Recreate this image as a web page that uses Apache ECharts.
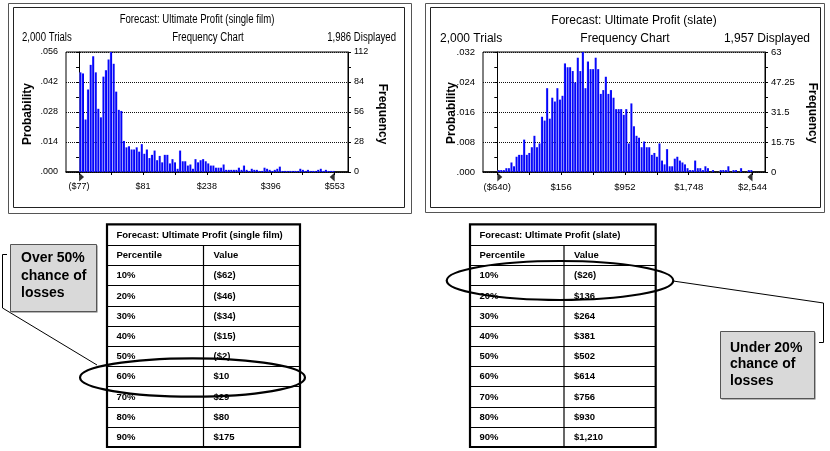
<!DOCTYPE html>
<html>
<head>
<meta charset="utf-8">
<script src="https://cdn.jsdelivr.net/npm/echarts@6/dist/echarts.min.js"></script>
<style>
  html, body { margin: 0; padding: 0; background: #fff; }
  #chart { width: 830px; height: 451px; }
</style>
</head>
<body>
<div id="chart"></div>
<script>
// Monte Carlo forecast histograms: trial counts per bin (100 bins each)
const singleFilmCounts = [
  93, 92, 49, 77, 100, 108, 93, 59, 51, 89, 95, 105, 112, 101, 75, 58, 57,
  29, 23, 24, 21, 21, 23, 19, 26,
  17, 21, 13, 16, 20, 11, 15, 9, 16, 16,
  8, 12, 9, 3, 20, 10, 10, 6, 7, 3,
  12, 9, 11, 12, 10, 8, 6, 6, 4, 4,
  4, 7, 2, 2, 2, 2, 2, 4, 2,
  6, 2, 1, 3, 2, 2, 1, 1, 4, 3,
  2, 1, 2, 3, 5, 1, 1, 1, 1, 1,
  1, 1, 3, 2, 1, 2, 1, 1, 1, 2,
  3, 1, 2, 1, 1, 1
];
const slateCounts = [
  1, 1, 1, 2, 2, 5, 3, 8, 9, 9,
  17, 9, 10, 13, 19, 13, 15, 29, 27, 44,
  28, 39, 37, 44, 38, 40, 57, 55, 55, 53,
  47, 60, 53, 63, 44, 58, 54, 54, 60, 54,
  41, 43, 50, 41, 43, 39, 33, 33, 33, 30,
  33, 15, 36, 24, 19, 18, 13, 16, 13, 13,
  9, 10, 8, 15, 6, 4, 12, 3, 3, 7,
  8, 6, 5, 4, 2, 1, 1, 6, 2, 2,
  1, 3, 2, 0, 1, 0, 0, 1, 1, 1,
  3, 0, 1, 1, 0, 2, 0, 0, 1, 1
];

// x-axis labels at bin edges 0, 25, 50, 75, 100
const singleFilmTickLabels = ['($77)', '$81', '$238', '$396', '$553'];
const slateTickLabels = ['($640)', '$156', '$952', '$1,748', '$2,544'];

// Percentile tables
const percentiles = ['10%', '20%', '30%', '40%', '50%', '60%', '70%', '80%', '90%'];
const singleFilmPercentileValues = ['($62)', '($46)', '($34)', '($15)', '($2)', '$10', '$29', '$80', '$175'];
const slatePercentileValues = ['($26)', '$136', '$264', '$381', '$502', '$614', '$756', '$930', '$1,210'];

const FONT = '"Liberation Sans", Arial, Helvetica, sans-serif';
const NARROW = '"Liberation Sans Narrow", "Arial Narrow", "Liberation Sans", Arial, sans-serif';

const panels = [
  {
    title: 'Forecast: Ultimate Profit (single film)',
    trials: '2,000 Trials', displayed: '1,986 Displayed',
    counts: singleFilmCounts, tickLabels: singleFilmTickLabels,
    grid: { left: 66, top: 52, width: 282, height: 120 },
    xMin: -5.1, xMax: 105.2,
    probMax: 0.056, probStep: 0.014, freqMax: 112, freqStep: 28,
    labelFont: NARROW, labelSize: 9, squeeze: 0.8,
    titleAt: [197, 20], headerY: 38, trialsX: 22, chartX: 208, displayedX: 396,
    probAt: [28, 114], freqAt: [382, 114],
    frameOuter: [8, 3, 411, 213], frameInner: [13, 7, 404, 207]
  },
  {
    title: 'Forecast: Ultimate Profit (slate)',
    trials: '2,000 Trials', displayed: '1,957 Displayed',
    counts: slateCounts, tickLabels: slateTickLabels,
    grid: { left: 483, top: 52, width: 282, height: 120 },
    xMin: -5.6, xMax: 104.9,
    probMax: 0.032, probStep: 0.008, freqMax: 63, freqStep: 15.75,
    labelFont: FONT, labelSize: 9.5, squeeze: 1,
    titleAt: [634, 21], headerY: 39, trialsX: 440, chartX: 625, displayedX: 810,
    probAt: [452, 113], freqAt: [812, 113],
    frameOuter: [425, 3, 824, 212], frameInner: [430, 7, 820, 207]
  }
];

const BIN_EDGES = [0, 25, 50, 75, 100];
const MINOR_EDGES = [0, 12.5, 25, 37.5, 50, 62.5, 75, 87.5, 100];

const grids = [], xAxes = [], yAxes = [], series = [];
const graphics = [];

function text(x, y, str, o) {
  o = o || {};
  const align = o.align || 'left';
  graphics.push({
    type: 'text', x: x, y: y, rotation: o.rotation || 0, scaleX: o.scaleX || 1, z: 20,
    style: {
      text: str,
      font: (o.bold ? 'bold ' : '') + (o.size || 12) + 'px ' + (o.family || FONT),
      fill: '#000',
      textAlign: align, align: align,
      textVerticalAlign: 'middle', verticalAlign: 'middle'
    }
  });
}
function line(x1, y1, x2, y2, w, color) {
  graphics.push({ type: 'line', z: 15, shape: { x1: x1, y1: y1, x2: x2, y2: y2 },
    style: { stroke: color || '#000', lineWidth: w || 1 } });
}
function rectBox(x1, y1, x2, y2, stroke, w, fill) {
  graphics.push({ type: 'rect', z: 5, shape: { x: x1, y: y1, width: x2 - x1, height: y2 - y1 },
    style: { stroke: stroke, lineWidth: w || 1, fill: fill || 'none' } });
}

panels.forEach(function (p, g) {
  const prob = function (v) { return v.toFixed(3).replace(/^0/, ''); };
  grids.push(Object.assign({ show: true, borderColor: '#000', borderWidth: 1, backgroundColor: 'transparent' }, p.grid));

  xAxes.push({
    gridIndex: g, type: 'value', min: p.xMin, max: p.xMax,
    axisLine: { show: true, onZero: false, lineStyle: { color: '#000', width: 1.5 } },
    axisTick: { show: true, customValues: MINOR_EDGES, length: 3, lineStyle: { color: '#000' } },
    axisLabel: {
      customValues: BIN_EDGES, color: '#000', fontFamily: p.labelFont, fontSize: p.labelSize, margin: 10,
      formatter: function (v) { return p.tickLabels[Math.round(v / 25)]; }
    },
    splitLine: { show: false }
  });

  yAxes.push({
    gridIndex: g, type: 'value', position: 'left', min: 0, max: p.probMax, interval: p.probStep,
    axisLine: { show: true, lineStyle: { color: '#000' } },
    axisTick: { show: true, length: 3, lineStyle: { color: '#000' } },
    minorTick: { show: true, splitNumber: 2, length: 3, lineStyle: { color: '#000' } },
    axisLabel: { color: '#000', fontFamily: p.labelFont, fontSize: p.labelSize, margin: 8, formatter: prob },
    splitLine: { show: true, lineStyle: { color: '#111', type: [1, 1], width: 1 } }
  });
  yAxes.push({
    gridIndex: g, type: 'value', position: 'right', min: 0, max: p.freqMax, interval: p.freqStep,
    axisLine: { show: true, lineStyle: { color: '#000' } },
    axisTick: { show: true, length: 3, lineStyle: { color: '#000' } },
    minorTick: { show: true, splitNumber: 2, length: 3, lineStyle: { color: '#000' } },
    axisLabel: { color: '#000', fontFamily: p.labelFont, fontSize: p.labelSize, margin: 6 },
    splitLine: { show: false }
  });

  series.push({
    type: 'bar', xAxisIndex: g, yAxisIndex: g * 2 + 1,
    barWidth: 2.2, silent: true, animation: false,
    itemStyle: {
      color: { type: 'linear', x: 0, y: 0, x2: 1, y2: 0,
        colorStops: [{ offset: 0, color: '#7b7bff' }, { offset: 0.35, color: '#0a0aff' }, { offset: 1, color: '#0000f0' }] }
    },
    data: p.counts.map(function (c, i) { return [i + 0.5, c]; })
  });

  // range grabbers at both ends of the displayed range
  series.push({
    type: 'scatter', xAxisIndex: g, yAxisIndex: g * 2 + 1, clip: false, silent: true, animation: false,
    itemStyle: { color: '#000' },
    data: [
      { value: [BIN_EDGES[0], 0], symbol: 'path://M0,0L0,10L6,5Z', symbolSize: [5, 9], symbolOffset: [2.5, 5] },
      { value: [BIN_EDGES[4], 0], symbol: 'path://M6,0L6,10L0,5Z', symbolSize: [5, 9], symbolOffset: [-2.5, 5] }
    ]
  });

  // panel frame
  const o = p.frameOuter, n = p.frameInner;
  rectBox(o[0] + 0.5, o[1] + 0.5, o[2] + 0.5, o[3] + 0.5, '#555', 1);
  rectBox(n[0] + 0.5, n[1] + 0.5, n[2] + 0.5, n[3] + 0.5, '#222', 1);

  // header texts
  text(p.titleAt[0], p.titleAt[1], p.title, { align: 'center', scaleX: p.squeeze });
  text(p.trialsX, p.headerY, p.trials, { scaleX: p.squeeze });
  text(p.chartX, p.headerY, 'Frequency Chart', { align: 'center', scaleX: p.squeeze });
  text(p.displayedX, p.headerY, p.displayed, { align: 'right', scaleX: p.squeeze });
  text(p.probAt[0], p.probAt[1], 'Probability', { align: 'center', bold: true, rotation: Math.PI / 2 });
  text(p.freqAt[0], p.freqAt[1], 'Frequency', { align: 'center', bold: true, rotation: -Math.PI / 2 });
});

// Percentile tables
function table(x0, x1, colX, y0, title, values) {
  const titleBottom = y0 + 20.7;
  const rowH = 20.2;
  const rows = [['Percentile', 'Value']].concat(percentiles.map(function (pc, i) { return [pc, values[i]]; }));
  const y1 = titleBottom + rowH * rows.length;
  graphics.push({ type: 'rect', z: 4, shape: { x: x0, y: y0, width: x1 - x0, height: y1 - y0 },
    style: { fill: '#fff', stroke: '#000', lineWidth: 2.2 } });
  for (let r = 0; r < rows.length; r++) {
    const yl = Math.round(titleBottom + r * rowH) + 0.5;
    line(x0, yl, x1, yl, 1.2, '#000');
  }
  line(colX, titleBottom, colX, y1, 1.2, '#000');
  text(x0 + 9.5, (y0 + titleBottom) / 2 + 0.5, title, { bold: true, size: 9.5 });
  rows.forEach(function (r, i) {
    const yc = titleBottom + rowH * i + rowH / 2 + 0.5;
    text(x0 + 9.5, yc, r[0], { bold: true, size: 9.5 });
    text(colX + 10, yc, r[1], { bold: true, size: 9.5 });
  });
}
table(107, 300, 203.5, 224.3, 'Forecast: Ultimate Profit (single film)', singleFilmPercentileValues);
table(470, 655.7, 564, 224.3, 'Forecast: Ultimate Profit (slate)', slatePercentileValues);

// highlight ellipses
graphics.push({ type: 'ellipse', z: 30, shape: { cx: 192.5, cy: 377.5, rx: 112.5, ry: 19.2 },
  style: { fill: 'none', stroke: '#000', lineWidth: 2.2 } });
graphics.push({ type: 'ellipse', z: 30, shape: { cx: 560, cy: 280.5, rx: 113.3, ry: 19.5 },
  style: { fill: 'none', stroke: '#000', lineWidth: 2.2 } });

// callout connectors
graphics.push({ type: 'polyline', z: 3, shape: { points: [[7, 254.5], [2.5, 254.5], [2.5, 308], [97, 365]] },
  style: { fill: 'none', stroke: '#000', lineWidth: 1 } });
graphics.push({ type: 'polyline', z: 3, shape: { points: [[673, 281], [823.5, 303], [823.5, 342.5], [819, 342.5]] },
  style: { fill: 'none', stroke: '#000', lineWidth: 1 } });

// callout boxes
function callout(x1, y1, x2, y2, lines, ys, tx) {
  graphics.push({ type: 'rect', z: 6, shape: { x: x1 + 1.5, y: y1 + 1.5, width: x2 - x1, height: y2 - y1 },
    style: { fill: '#6e6e6e', stroke: 'none' } });
  graphics.push({ type: 'rect', z: 7, shape: { x: x1 + 0.5, y: y1 + 0.5, width: x2 - x1, height: y2 - y1 },
    style: { fill: '#d9d9d9', stroke: '#555', lineWidth: 1 } });
  lines.forEach(function (s, i) { text(tx, ys[i], s, { bold: true, size: 14 }); });
}
callout(10, 244, 96, 311, ['Over 50%', 'chance of', 'losses'], [258, 276, 293.5], 21);
callout(720, 331, 814, 398, ['Under 20%', 'chance of', 'losses'], [348, 364.5, 381], 730);

const chart = echarts.init(document.getElementById('chart'), null, { renderer: 'canvas' });
chart.setOption({
  animation: false,
  backgroundColor: '#fff',
  grid: grids,
  xAxis: xAxes,
  yAxis: yAxes,
  series: series,
  graphic: { elements: graphics }
});
</script>
</body>
</html>
